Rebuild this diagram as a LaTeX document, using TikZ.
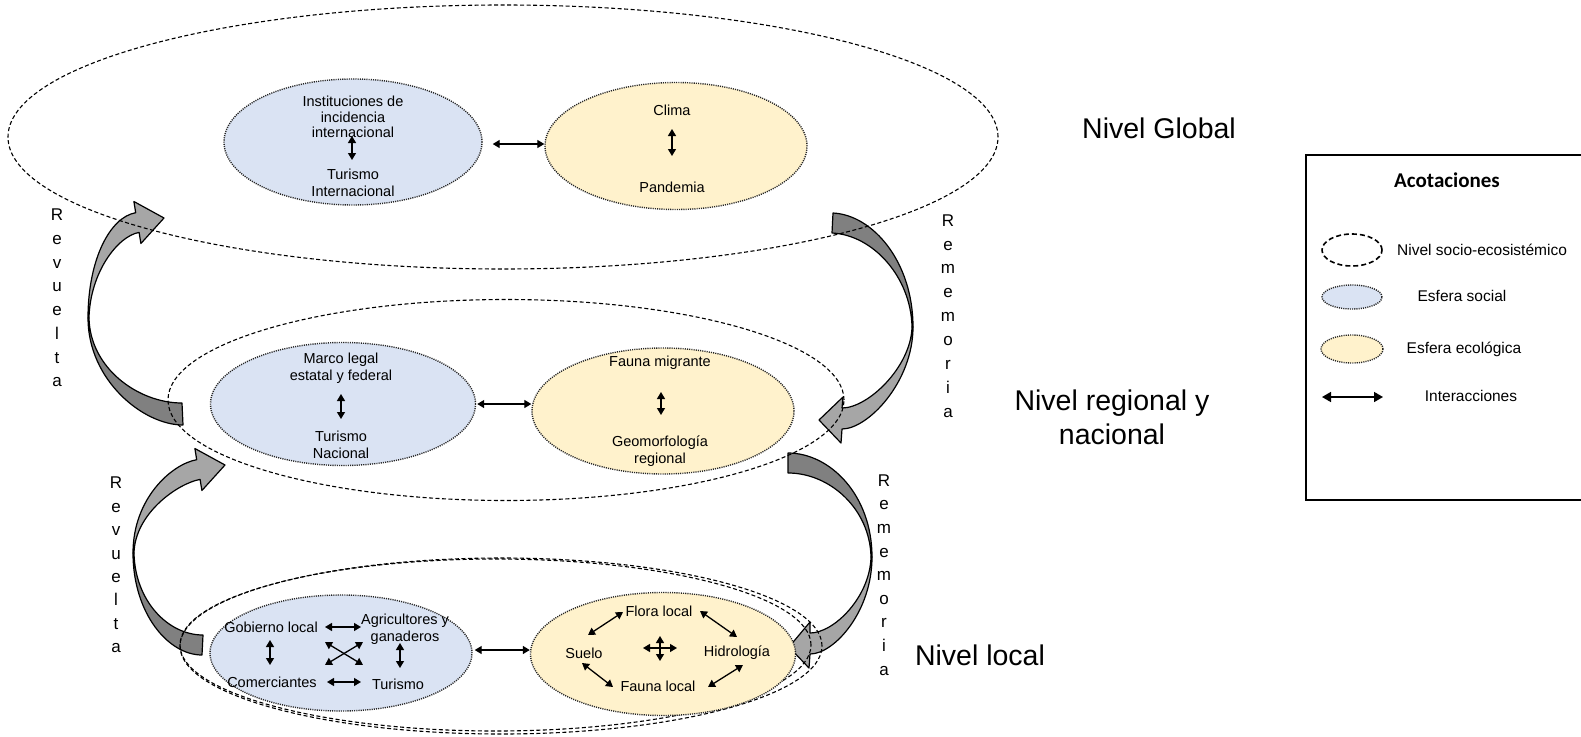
\documentclass[tikz,border=0pt]{standalone}
\usepackage{fontspec}
\setmainfont{Liberation Sans}
\newfontfamily\calib{Carlito}
\usetikzlibrary{shapes.geometric,arrows.meta,calc}
\definecolor{socfill}{HTML}{DAE3F3}
\definecolor{ecofill}{HTML}{FFF2CC}
\definecolor{arrdark}{HTML}{808080}
\definecolor{arrlight}{HTML}{A6A6A6}
\begin{document}
\begin{tikzpicture}[x=1pt,y=-1pt,
  lvl/.style={draw, ellipse, line width=1.1pt, dash pattern=on 4pt off 2.5pt, inner sep=0pt},
  soc/.style={draw=black!85, fill=socfill, ellipse, line width=1.4pt, dash pattern=on 1.1pt off 1.1pt, inner sep=0pt},
  eco/.style={soc, fill=ecofill},
  ia/.style={{Triangle[length=7pt,width=8pt]}-{Triangle[length=7pt,width=8pt]}, line width=1.3pt},
  txt/.style={font=\fontsize{14.5}{16.5}\selectfont, inner sep=0pt, align=center},
  big/.style={font=\fontsize{28.5}{34}\selectfont, align=center, inner sep=0pt},
  vl/.style={align=center, inner sep=0pt},
  lgt/.style={font=\fontsize{15.5}{18}\selectfont, inner sep=0pt},
  dk/.style={fill=arrdark, draw=black, line width=1.2pt, line join=round},
  lt/.style={fill=arrlight, draw=black, line width=1.2pt, line join=round},
]
\useasboundingbox (0,0) rectangle (1581,736);

% curved block arrows
\begin{scope}[shift={(88,318)}]
 \filldraw[dk] (95,107) .. controls (55,107) and (0,62) .. (0,0) -- (1,0) .. controls (2,50) and (50,85) .. (94,85) -- cycle;
 \filldraw[lt] (0,0) .. controls (0,-58) and (21.7,-100.7) .. (47.7,-105.3) -- (45.9,-116.5) -- (76,-100) -- (52.9,-74.5) -- (51.1,-85.6) .. controls (29.4,-81.8) and (2,-45) .. (1,0) -- cycle;
\end{scope}
\begin{scope}[shift={(133,553)}]
 \filldraw[dk] (69,102) .. controls (35,102) and (0,60) .. (0,0) -- (1,0) .. controls (2,48) and (35,82) .. (70,82) -- cycle;
 \filldraw[lt] (0,0) .. controls (0,-55) and (39.1,-89) .. (63.7,-93.3) -- (61.9,-104.5) -- (92,-88) -- (68.9,-62.5) -- (67.1,-73.6) .. controls (45.4,-69.8) and (2,-40) .. (1,0) -- cycle;
\end{scope}
\begin{scope}[shift={(913,327)},rotate=180]
 \filldraw[dk] (80,114) .. controls (40,112) and (0,65) .. (0,0) -- (1,0) .. controls (2,50) and (40,92) .. (81,94) -- cycle;
 \filldraw[lt] (0,0) .. controls (0,-55) and (45,-102) .. (71,-102) -- (72,-116) -- (94,-93) -- (70,-70) -- (71,-81) .. controls (45,-81) and (2,-40) .. (1,0) -- cycle;
\end{scope}
\begin{scope}[shift={(872,557)},rotate=180]
 \filldraw[dk] (84,104) .. controls (42,104) and (0,62) .. (0,0) -- (1,0) .. controls (2,48) and (42,84) .. (84,84) -- cycle;
 \filldraw[lt] (0,0) .. controls (0,-55) and (38,-97) .. (62,-97) -- (63,-111) -- (83,-90) -- (62,-65) -- (62,-76) .. controls (38,-76) and (2,-40) .. (1,0) -- cycle;
\end{scope}

% level ellipses
\node[lvl, minimum width=990pt, minimum height=264pt] (gl) at (503,137) {};
\node[lvl, minimum width=676pt, minimum height=201pt] (rl) at (506,400) {};
\node[lvl, minimum width=642pt, minimum height=176pt] (ll) at (501,646) {};
\node[lvl, minimum width=631pt, minimum height=172pt] (ll2) at (495.5,645) {};

% spheres
\node[soc, minimum width=258pt, minimum height=126pt] (bg) at (353,142) {};
\node[eco, minimum width=262pt, minimum height=127pt] (yg) at (676,146) {};
\node[soc, minimum width=265pt, minimum height=123pt] (br) at (343,404) {};
\node[eco, minimum width=262pt, minimum height=126pt] (yr) at (663,411) {};
\node[soc, minimum width=262pt, minimum height=116pt] (bl) at (341,653) {};
\node[eco, minimum width=265pt, minimum height=123pt] (yl) at (663,654) {};

% global texts
\node[txt, font=\fontsize{14.5}{15.6}\selectfont] (inst) at (353,117) {Instituciones de\\incidencia\\internacional};
\node[txt] (turi) at (353,183) {Turismo\\Internacional};
\node[txt] (clima) at (672,110) {Clima};
\node[txt] (pand) at (672,187) {Pandemia};
\coordinate (g1a) at (352,136); \coordinate (g1b) at (352,160);
\coordinate (g2a) at (672,129); \coordinate (g2b) at (672,156);
\draw[ia] (g1a) -- (g1b);
\draw[ia] (g2a) -- (g2b);
\draw[ia, shorten <=10pt] (bg.east |- 0,144) -- (yg.west |- 0,144);

% regional texts
\node[txt] (marco) at (341,368) {Marco legal\\estatal y federal};
\node[txt] (turn) at (341,445) {Turismo\\Nacional};
\node[txt] (fauna) at (660,363) {Fauna migrante};
\node[txt] (geo) at (660,451) {Geomorfología\\regional};
\coordinate (r1a) at (341,394); \coordinate (r1b) at (341,419);
\coordinate (r2a) at (661,392); \coordinate (r2b) at (661,415);
\draw[ia] (r1a) -- (r1b);
\draw[ia] (r2a) -- (r2b);
\draw[ia, shorten <=1pt] (br.east |- 0,404) -- (yr.west |- 0,404);

% local texts
\node[txt] (gob) at (271,627) {Gobierno local};
\node[txt] (agri) at (405,629) {Agricultores y\\ganaderos};
\node[txt] (com) at (272,682) {Comerciantes};
\node[txt] (tur) at (398,684) {Turismo};
\coordinate (h1a) at (325,627); \coordinate (h1b) at (361,627);
\coordinate (h2a) at (327,682); \coordinate (h2b) at (361,682);
\coordinate (v1a) at (270,640); \coordinate (v1b) at (270,665);
\coordinate (v2a) at (400,643); \coordinate (v2b) at (400,668);
\coordinate (x1a) at (325,642); \coordinate (x1b) at (363,665);
\coordinate (x2a) at (325,665); \coordinate (x2b) at (363,642);
\node[txt] (flora) at (659,611) {Flora local};
\node[txt] (suelo) at (584,653) {Suelo};
\node[txt] (hidro) at (737,653) {Hidrología};
\node[txt] (faunal) at (658,686) {Fauna local};
\coordinate (e1a) at (588,635); \coordinate (e1b) at (623,612);
\coordinate (e2a) at (700,611); \coordinate (e2b) at (737,637);
\coordinate (e3a) at (582,663); \coordinate (e3b) at (613,687);
\coordinate (e4a) at (743,665); \coordinate (e4b) at (708,687);
\coordinate (c1a) at (643,648); \coordinate (c1b) at (677,648);
\coordinate (c2a) at (660,636); \coordinate (c2b) at (660,661);
\foreach \a in {h1,h2,v1,v2,x1,x2,e1,e2,e3,e4,c1,c2} \draw[ia] (\a a) -- (\a b);
\draw[ia, shorten <=2pt] (bl.east |- 0,650) -- (yl.west |- 0,650);

% level labels
\node[big] (ng) at (1159,128) {Nivel Global};
\node[big] (nr) at (1112,417) {Nivel regional y\\nacional};
\node[big] (nl) at (980,655) {Nivel local};

% vertical labels
\node[vl, font=\fontsize{17}{23.7}\selectfont] (rv1) at (57,298) {R\\e\\v\\u\\e\\l\\t\\a};
\node[vl, font=\fontsize{17}{23.4}\selectfont] (rv2) at (116,565) {R\\e\\v\\u\\e\\l\\t\\a};
\node[vl, font=\fontsize{17}{23.9}\selectfont] (rm1) at (948,316) {R\\e\\m\\e\\m\\o\\r\\i\\a};
\node[vl, font=\fontsize{17}{23.6}\selectfont] (rm2) at (884,575) {R\\e\\m\\e\\m\\o\\r\\i\\a};

% legend
\node[draw, line width=1.3pt, minimum width=300pt, minimum height=345pt, inner sep=0pt] (leg) at (1456,327.5) {};
\node[font=\calib\bfseries\fontsize{21}{24}\selectfont, inner sep=0pt] (acot) at (1447,180) {Acotaciones};
\node[draw, ellipse, line width=1.6pt, dash pattern=on 5pt off 3pt, minimum width=60pt, minimum height=32pt] (k1) at (1352,250) {};
\node[soc, minimum width=60pt, minimum height=24pt] (k2) at (1352,297) {};
\node[eco, minimum width=62pt, minimum height=28pt] (k3) at (1352,349) {};
\coordinate (k4a) at (1322,397); \coordinate (k4b) at (1383,397);
\draw[{Triangle[length=9pt,width=10pt]}-{Triangle[length=9pt,width=10pt]}, line width=1.6pt] (k4a) -- (k4b);
\node[lgt, anchor=west] (kt1) at (1397,250) {Nivel socio-ecosistémico};
\node[lgt] (kt2) at (1462,296) {Esfera social};
\node[lgt] (kt3) at (1464,349) {Esfera ecológica};
\node[lgt] (kt4) at (1471,396) {Interacciones};
\end{tikzpicture}
\end{document}
